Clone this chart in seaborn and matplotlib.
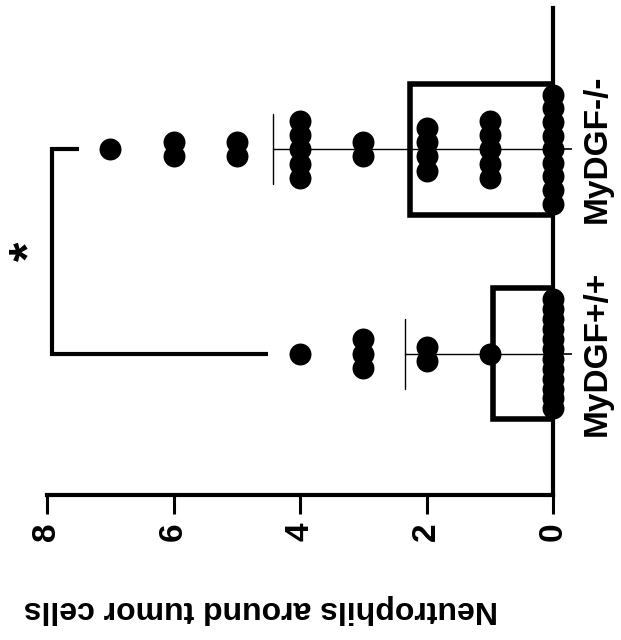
import numpy as np
import pandas as pd
import matplotlib
matplotlib.use("Agg")
import matplotlib.pyplot as plt
import seaborn as sns

# ---- data ----
groups = ["MyDGF+/+", "MyDGF-/-"]
wt_values = [0, 1, 2, 3, 4]
wt_counts = [12, 1, 2, 3, 1]
ko_values = [0, 1, 2, 3, 4, 5, 6, 7]
ko_counts = [9, 5, 4, 2, 5, 2, 2, 1]
value_ticks = [0, 2, 4, 6, 8]
value_label = "Neutrophils around tumor cells"
sig_label = "*"

# ---- build table ----
df = pd.DataFrame({
    "group": [groups[0]] * sum(wt_counts) + [groups[1]] * sum(ko_counts),
    "count": list(np.repeat(wt_values, wt_counts)) + list(np.repeat(ko_values, ko_counts)),
})

sns.set_style("ticks")
plt.rcParams["font.family"] = ["Liberation Sans", "DejaVu Sans"]
plt.rcParams["font.weight"] = "bold"
plt.rcParams["text.color"] = "black"
plt.rcParams["axes.edgecolor"] = "black"
plt.rcParams["axes.labelcolor"] = "black"
plt.rcParams["xtick.color"] = "black"
plt.rcParams["ytick.color"] = "black"

fig = plt.figure(figsize=(6.21, 6.40), dpi=100)
ax = fig.add_axes([47 / 621, 1 - 495 / 640, 506 / 621, 487 / 640])

order = [groups[1], groups[0]]  # MyDGF-/- on top
bar_w = 0.64
sns.barplot(data=df, x="count", y="group", order=order, orient="h",
            errorbar="sd", capsize=0.34, width=bar_w,
            color="white", edgecolor="black", linewidth=4, saturation=1,
            err_kws={"color": "black", "linewidth": 1.0}, ax=ax)

# scatter columns (stacked dots)
dot_s = 250
dot_units = 0.107
for pos, g in enumerate(order):
    vals, cnts = (wt_values, wt_counts) if g == groups[0] else (ko_values, ko_counts)
    for v, c in zip(vals, cnts):
        if c > 1:
            step = min(0.07, (bar_w - dot_units) / (c - 1))
        else:
            step = 0
        offs = (np.arange(c) - (c - 1) / 2) * step
        ax.scatter(np.full(c, v), pos + offs, s=dot_s, color="black",
                   linewidths=0, zorder=5, clip_on=False)

ax.set_xlim(8, 0)
ax.set_ylim(1.69, -0.69)

ax.set_xticks(value_ticks)
ax.set_xticklabels([str(t) for t in value_ticks])
ax.tick_params(axis="x", labelrotation=90, length=14, width=2.2,
               labelsize=24, pad=6, direction="out", colors="black")

ax.yaxis.tick_right()
ax.set_yticks([0, 1])
ax.set_yticklabels(order, rotation=90, va="center", ha="left")
ax.tick_params(axis="y", length=14, width=1.2, labelsize=24, pad=7,
               direction="out", right=True, left=False, colors="black")

for s in ["top", "left"]:
    ax.spines[s].set_visible(False)
for s in ["bottom", "right"]:
    ax.spines[s].set_linewidth(3)
    ax.spines[s].set_color("black")

ax.set_ylabel("")
ax.set_xlabel(value_label, fontsize=23, fontweight="bold", rotation=180,
              va="center", ha="center", color="black")
ax.xaxis.set_label_coords(0.423, -0.234)

# significance bracket
all_max = max(max(wt_values), max(ko_values))
bx = all_max + 0.92
ko_end = max(ko_values) + 0.5
wt_end = max(wt_values) + 0.5
ax.plot([ko_end, bx, bx, wt_end], [0, 0, 1, 1], color="black", lw=3,
        clip_on=False, solid_capstyle="butt", solid_joinstyle="miter")
ax.text(bx + 0.33, 0.5, sig_label, rotation=90, ha="center", va="center",
        fontsize=36, fontweight="bold", clip_on=False, color="black")

fig.savefig("out.png", dpi=100)
